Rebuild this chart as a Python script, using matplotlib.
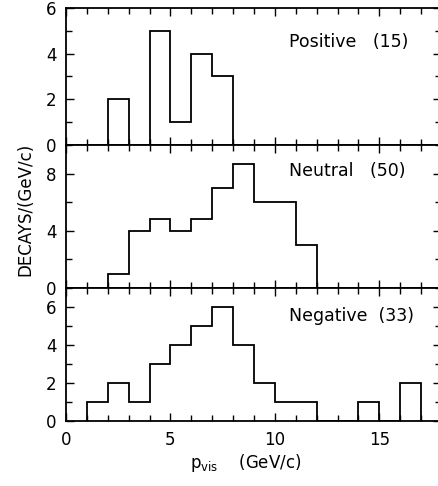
import numpy as np
import matplotlib
matplotlib.use('Agg')
import matplotlib.pyplot as plt
from matplotlib.ticker import MultipleLocator

# histogram contents (bin width 1 GeV/c)
pos_edges = [2, 3, 4, 5, 6, 7, 8]
pos_vals = [2, 0, 5, 1, 4, 3]

neu_edges = [2, 3, 4, 5, 6, 7, 8, 9, 10, 11, 12]
neu_vals = [1, 4, 4.8, 4, 4.8, 7, 8.7, 6, 6, 3]

neg_edges = [1, 2, 3, 4, 5, 6, 7, 8, 9, 10, 11, 12, 13, 14, 15, 16, 17]
neg_vals = [1, 2, 1, 3, 4, 5, 6, 4, 2, 1, 1, 0, 0, 1, 0, 2]

labels = ['Positive   (15)', 'Neutral   (50)', 'Negative  (33)']
ylims = [6, 10, 7]
yticks = [[0, 2, 4, 6], [0, 4, 8], [0, 2, 4, 6]]
yminor = [1, 2, 1]
label_y = [0.75, 0.82, 0.79]

plt.rcParams['font.family'] = 'DejaVu Sans'

fig = plt.figure(figsize=(4.39, 4.86), dpi=100)
bounds = [(145, 8), (288, 145), (421, 288)]  # pixel rows (bottom, top)
axes = []
for b, t in bounds:
    ax = fig.add_axes([66 / 439, 1 - b / 486, 375 / 439, (b - t) / 486])
    axes.append(ax)

data = [(pos_edges, pos_vals), (neu_edges, neu_vals), (neg_edges, neg_vals)]
for i, ax in enumerate(axes):
    edges, vals = data[i]
    ax.stairs(vals, edges, color='black', linewidth=1.3)
    ax.set_xlim(0, 17.95)
    ax.set_ylim(0, ylims[i])
    ax.set_yticks(yticks[i])
    ax.yaxis.set_minor_locator(MultipleLocator(yminor[i]))
    ax.xaxis.set_major_locator(MultipleLocator(5))
    ax.xaxis.set_minor_locator(MultipleLocator(1))
    ax.tick_params(which='both', direction='in', top=True, right=True, width=1.0,
                   labelsize=12, pad=7)
    ax.tick_params(which='major', length=5.5)
    ax.tick_params(which='minor', length=4.5)
    for s in ax.spines.values():
        s.set_linewidth(1.3)
    if i < 2:
        ax.tick_params(labelbottom=False)
    ax.text(0.595, label_y[i], labels[i], transform=ax.transAxes,
            fontsize=12.5, va='center', ha='left')

axes[2].set_xticks([0, 5, 10, 15])
axes[2].set_xticklabels(['0', '5', '10', '15'])
axes[2].set_xlabel(r'$\mathrm{p}_{\mathrm{vis}}$    (GeV/c)', fontsize=12)
axes[2].xaxis.set_label_coords(0.48, -0.23)

fig.text(0.057, 1 - 209 / 486, 'DECAYS/(GeV/c)', rotation=90,
         fontsize=12, ha='center', va='center')

fig.savefig('out.png', dpi=100)
